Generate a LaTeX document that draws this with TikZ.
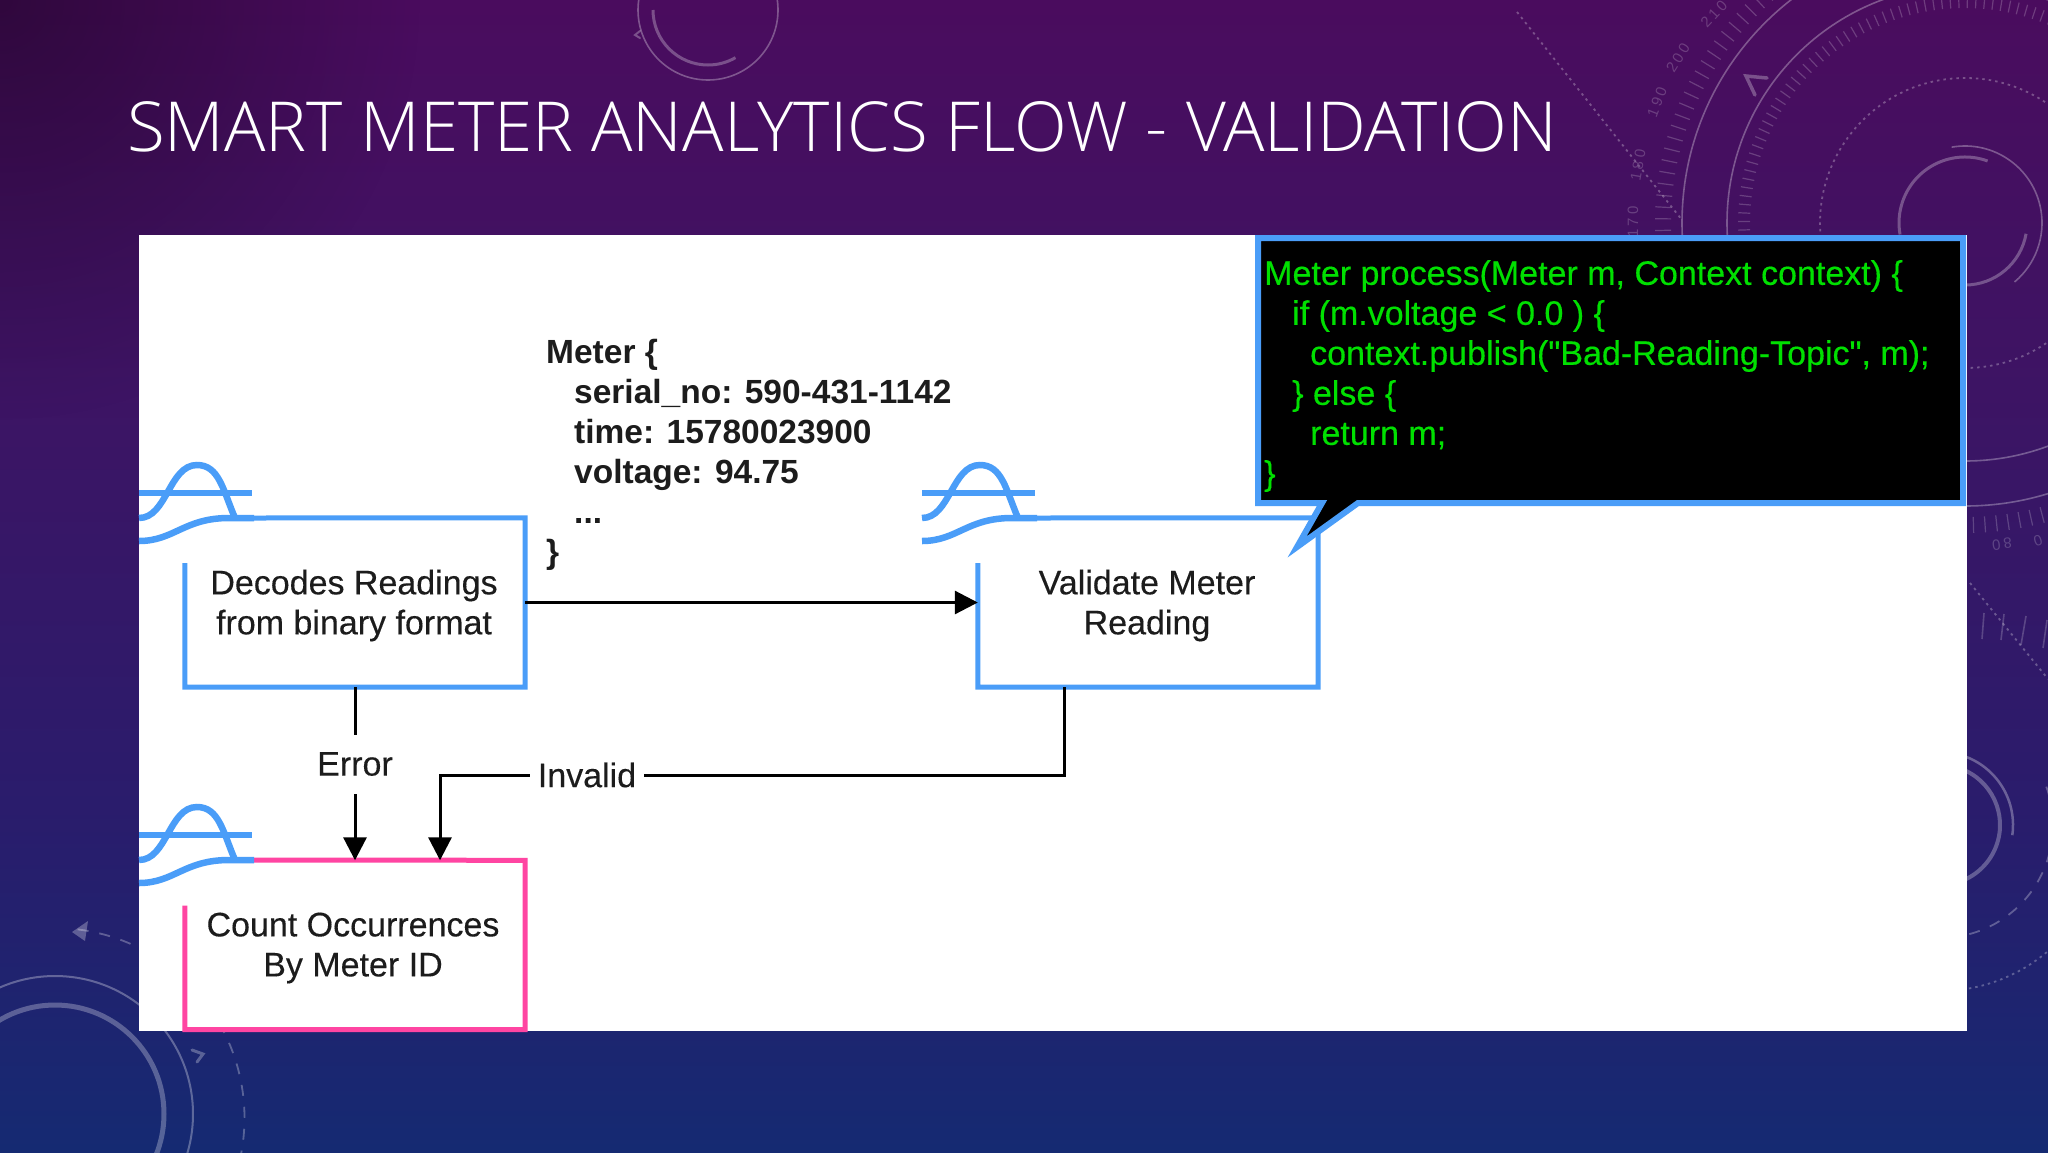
\documentclass[tikz,border=0pt]{standalone}
\usepackage{fontspec}
\setmainfont{Liberation Sans}
\newfontfamily\titlefont{Open Sans Light}
\newfontfamily\codefont{Liberation Sans}
\usetikzlibrary{arrows.meta,calc,fadings}
\definecolor{bgtop}{HTML}{4A0C5E}
\definecolor{bgmida}{HTML}{3D1464}
\definecolor{bgmidb}{HTML}{2A1C6C}
\definecolor{bgbot}{HTML}{152A72}
\definecolor{flowblue}{HTML}{4A9DF8}
\definecolor{flowpink}{HTML}{FF45A2}
\definecolor{codegreen}{HTML}{00E000}
\definecolor{inkdark}{HTML}{1C1C1C}
\pgfdeclareverticalshading{slidebg}{100bp}{color(0bp)=(bgbot); color(25bp)=(bgbot); color(40bp)=(bgmidb); color(58bp)=(bgmida); color(75bp)=(bgtop); color(100bp)=(bgtop)}
\tikzfading[name=cornerfade,inner color=transparent!0,outer color=transparent!100]
\tikzset{
  deco/.style={white,opacity=0.3,line width=1.6pt},
  decothick/.style={white,opacity=0.28,line width=4pt},
  decofine/.style={white,opacity=0.2,line width=1.2pt},
  decodot/.style={white,opacity=0.28,line width=1.8pt,dash pattern=on 2.5pt off 4pt},
  decodash/.style={white,opacity=0.28,line width=1.8pt,dash pattern=on 11pt off 11pt},
  chev/.style={white,opacity=0.28,line width=3.5pt,line cap=round},
  scale num/.style={white,opacity=0.2,font=\addfontfeature{LetterSpace=20}\fontsize{15}{15}\selectfont,inner sep=0pt},
  flowbox/.style={minimum width=340pt,minimum height=169pt,inner sep=0pt},
  boxtext/.style={inner sep=0pt,align=center,text=inkdark,
     font=\addfontfeature{FakeBold=0.25}\fontsize{34}{40}\selectfont},
  edgeline/.style={black,line width=3pt},
  arrowed/.style={edgeline,-{Triangle[width=23pt,length=23pt]}},
  edgelabel/.style={fill=white,inner sep=0pt,text=inkdark,font=\addfontfeature{FakeBold=0.25}\fontsize{34}{40}\selectfont},
  blueline/.style={flowblue,line width=5pt,line join=miter},
  pinkline/.style={flowpink,line width=5pt,line join=miter},
  waveline/.style={flowblue,line width=6.5pt},
}
% wave icon: #1 x origin, #2 y offset
\newcommand{\waveicon}[2]{%
  \begin{scope}[shift={(#1,#2)}]
    \draw[waveline] (0,493) -- (113,493);
    \draw[waveline] (0,518) .. controls (28,518) and (30,465) .. (58,465) .. controls (80,465) and (84,490) .. (96,518);
    \draw[waveline] (0,541) .. controls (35,541) and (45,518) .. (90,518) -- (115,518);
  \end{scope}}
\begin{document}
\begin{tikzpicture}[x=1pt,y=-1pt]
\useasboundingbox (0,0) rectangle (2048,1152);
% background
\shade[shading=slidebg] (0,0) rectangle (2048,1152);
\fill[black,opacity=0.35,path fading=cornerfade] (0,0) circle[radius=420];
% decoration: top right dial
\begin{scope}[shift={(1965,223)},y=1pt,x=1pt]
  \draw[deco] (0,0) circle[radius=238];
  \draw[deco] (0,0) circle[radius=283];
  \draw[decodot] (0,0) circle[radius=145];
  \foreach \a in {30,32.2,...,182}{\draw[decofine] (\a:215) -- (\a:227);}
  \foreach \a in {100,102.2,...,300}{\draw[decofine] (\a:294) -- (\a:310);}
  \draw[deco] (100:77) arc[start angle=100,end angle=-50,radius=77];
  \draw[decothick,line width=3pt] (70:66) arc[start angle=70,end angle=190,radius=66];
  \draw[decothick,line width=3pt] (-10:62) arc[start angle=-10,end angle=-90,radius=62];
\end{scope}
\node[scale num,rotate=90] (n170) at (1633,222) {170};
\node[scale num,rotate=80] (n180) at (1638,165) {180};
\node[scale num,rotate=69] (n190) at (1657,102) {190};
\node[scale num,rotate=58] (n200) at (1678,58) {200};
\node[scale num,rotate=47] (n210) at (1714,14) {210};
\node[scale num,rotate=187] (n80) at (2002,544) {80};
\node[scale num,rotate=198] (n0) at (2038,541) {0};
\draw[chev] (1767,78) -- (1746,76) -- (1755,95);
\draw[decodot] (1517,12) -- (1682,220);
% decoration: right side
\draw[decodot] (1970,583) -- (2048,679);
\draw[decofine,line width=1.6pt] (1984,613) -- (1982,639);
\draw[decofine,line width=1.6pt] (2004,614) -- (2001,640);
\draw[decofine,line width=1.6pt] (2026,616) -- (2021,645);
\draw[decofine,line width=1.6pt] (2047,620) -- (2043,648);
\begin{scope}[shift={(1940,825)},y=1pt]
  \draw[deco,line width=2.5pt] (100:73) arc[start angle=100,end angle=-8,radius=73];
  \draw[decothick] (70:60) arc[start angle=70,end angle=-70,radius=60];
  \draw[decodash] (-75:113) arc[start angle=-75,end angle=20,radius=113];
  \draw[decodot] (-80:166) arc[start angle=-80,end angle=-30,radius=166];
\end{scope}
% decoration: top middle
\begin{scope}[shift={(708,10)},y=1pt]
  \draw[deco] (0,0) circle[radius=70];
  \draw[decothick,line width=3pt] (180:55) arc[start angle=180,end angle=300,radius=55];
\end{scope}
\draw[chev,line width=2pt] (640,31) -- (635,35) -- (640,38);
% decoration: bottom left
\begin{scope}[shift={(55,1114)},y=1pt]
  \draw[deco,line width=2pt] (0,0) circle[radius=138];
  \draw[decothick,line width=5pt] (0,0) circle[radius=109];
  \draw[decodash] (83:186) arc[start angle=83,end angle=-20,radius=190];
\end{scope}
\fill[white,opacity=0.28] (72,932) -- (88,921) -- (85,941) -- cycle;
\draw[chev,line width=3pt] (192,1050) -- (203,1054) -- (197,1062);
% white panel
\fill[white] (139,235) rectangle (1967,1031);
% title
\node[anchor=west,inner sep=0pt,text=white,font=\titlefont\fontsize{69}{72}\selectfont] (title) at (127,127) {SMART METER ANALYTICS FLOW - VALIDATION};
% boxes
\node[flowbox] (decode) at (355,602.5) {};
\node[flowbox] (validate) at (1148,602.5) {};
\node[flowbox] (count) at (355,945) {};
\node[boxtext] (decodetext) at ($(decode.center)+(-1,3)$) {Decodes Readings\\from binary format};
\node[boxtext] (validatetext) at ($(validate.center)+(-1,3)$) {Validate Meter\\Reading};
\node[boxtext] (counttext) at ($(count.center)+(-2,3)$) {Count Occurrences\\By Meter ID};
\draw[blueline] (252,518) -- (decode.north east) -- (decode.south east) -- (decode.south west) -- ++(0,-124);
\draw[blueline] (1036,518) -- (validate.north east) -- (validate.south east) -- (validate.south west) -- ++(0,-124);
\draw[pinkline] (252,860) -- (count.north east) -- (count.south east) -- (count.south west) -- ++(0,-124);
\waveicon{139}{0}
\waveicon{922}{0}
\waveicon{139}{342}
% payload text
\node[anchor=north west,inner sep=0pt,align=left,text=inkdark,font=\bfseries\fontsize{33.5}{40}\selectfont] (payload) at (546,339)
  {Meter \{\\\hspace*{28pt}serial\_no: 590-431-1142\\\hspace*{28pt}time: 15780023900\\\hspace*{28pt}voltage: 94.75\\\hspace*{28pt}...\\\}};
% connectors
\draw[arrowed] (decode.east) -- (validate.west);
\draw[arrowed] (decode.south) -- (decode.south |- count.north);
\node[edgelabel,minimum height=59pt,minimum width=76pt] (error) at (355,764) {Error};
\draw[arrowed] ([xshift=-84pt]validate.south) |- ($(count.north)+(85,-85)$) -- ([xshift=85pt]count.north);
\node[edgelabel,minimum height=45pt,minimum width=114pt] (invalid) at (587,775) {Invalid};
% callout
\draw[flowblue,line width=6pt,fill=black,line join=miter,miter limit=10] (1258,238) -- (1963,238) -- (1963,503) -- (1358,503) -- (1297,547) -- (1322,503) -- (1258,503) -- cycle;
\node[anchor=north west,inner sep=0pt,align=left,text=codegreen,font=\codefont\addfontfeature{FakeBold=0.4}\fontsize{34}{40}\selectfont] (code) at (1264,260)
  {Meter process(Meter m, Context context) \{\\\hspace*{28pt}if (m.voltage < 0.0 ) \{\\\hspace*{46pt}context.publish("Bad-Reading-Topic", m);\\\hspace*{28pt}\} else \{\\\hspace*{46pt}return m;\\\}};
\end{tikzpicture}
\end{document}
